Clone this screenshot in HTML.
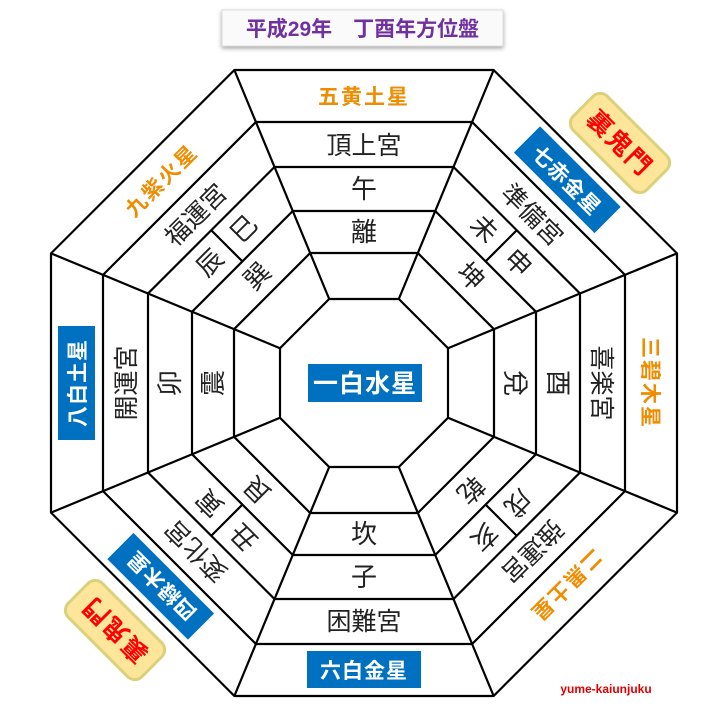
<!DOCTYPE html>
<html><head><meta charset="utf-8">
<style>
html,body{margin:0;padding:0;background:#fff;}
svg{display:block;}
text{font-family:"Liberation Sans","Noto Sans CJK JP",sans-serif;}
</style></head>
<body>
<svg width="724" height="710" viewBox="0 0 724 710" xmlns="http://www.w3.org/2000/svg">
<defs>
<filter id="sh" x="-20%" y="-40%" width="140%" height="180%"><feDropShadow dx="0" dy="2" stdDeviation="2" flood-color="#000" flood-opacity="0.35"/></filter>
</defs>
<rect x="222" y="10" width="281" height="36" fill="#fafafa" stroke="#ddd" filter="url(#sh)"/>
<text x="362.5" y="36" text-anchor="middle" font-size="21" font-weight="bold" fill="#7030a0">平成29年　丁酉年方位盤</text>

<g transform="translate(364,383)" id="d"></g>
<text x="606" y="693" text-anchor="middle" font-size="12" font-weight="bold" fill="#e00000">yume-kaiunjuku</text>
</svg>
<script>
(function(){
var g=document.getElementById('d');
var t=Math.tan(Math.PI/8);
function oct(a){var b=a*t;return [[-b,-a],[b,-a],[a,-b],[a,b],[b,a],[-b,a],[-a,b],[-a,-b]];}
var h='';
[313,261,216,172,130,84].forEach(function(a){h+='<polygon points="'+oct(a).map(function(p){return p[0].toFixed(1)+','+p[1].toFixed(1)}).join(' ')+'" fill="none" stroke="#000" stroke-width="2.2"/>';});
var o=oct(313),i=oct(84);
for(var k=0;k<8;k++)h+='<line x1="'+i[k][0]+'" y1="'+i[k][1]+'" x2="'+o[k][0]+'" y2="'+o[k][1]+'" stroke="#000" stroke-width="2.2"/>';
[45,135,225,315].forEach(function(d){var r=d*Math.PI/180,s=Math.sin(r),c=-Math.cos(r);h+='<line x1="'+(172*s)+'" y1="'+(172*c)+'" x2="'+(216*s)+'" y2="'+(216*c)+'" stroke="#000" stroke-width="2.2"/>';});
var S=[
 [0,'五黄土星',0,'頂上宮',['午'],'離'],
 [45,'七赤金星',1,'準備宮',['未','申'],'坤'],
 [90,'三碧木星',0,'喜楽宮',['酉'],'兌'],
 [135,'二黒土星',0,'強運宮',['戌','亥'],'乾'],
 [180,'六白金星',1,'困難宮',['子'],'坎'],
 [225,'四緑木星',1,'変化宮',['丑','寅'],'艮'],
 [270,'八白土星',1,'開運宮',['卯'],'震'],
 [315,'九紫火星',0,'福運宮',['辰','巳'],'巽']];
S.forEach(function(s){
 var th=s[0],tr,sign;
 if(th==180){tr='';sign=1;}else{tr='rotate('+th+')';sign=-1;}
 var y=function(r){return sign*r;};
 h+='<g transform="'+tr+'">';
 if(s[2]){h+='<rect x="-57" y="'+(y(287)-19)+'" width="114" height="37" fill="#0070c0"/>';
  h+='<text x="0" y="'+(y(287)+8)+'" text-anchor="middle" font-size="21" font-weight="bold" fill="#fff" letter-spacing="1">'+s[1]+'</text>';}
 else h+='<text x="0" y="'+(y(287)+8)+'" text-anchor="middle" font-size="21" font-weight="bold" fill="#f08c00" letter-spacing="2">'+s[1]+'</text>';
 h+='<text x="0" y="'+(y(238)+9)+'" text-anchor="middle" font-size="25" fill="#222">'+s[3]+'</text>';
 if(s[4].length==1)h+='<text x="0" y="'+(y(194)+9)+'" text-anchor="middle" font-size="26" fill="#222">'+s[4][0]+'</text>';
 else{h+='<text x="-24" y="'+(y(194)+9)+'" text-anchor="middle" font-size="26" fill="#222">'+s[4][0]+'</text>';h+='<text x="24" y="'+(y(194)+9)+'" text-anchor="middle" font-size="26" fill="#222">'+s[4][1]+'</text>';}
 h+='<text x="0" y="'+(y(151)+9)+'" text-anchor="middle" font-size="26" fill="#222">'+s[5]+'</text>';
 h+='</g>';
});
h+='<rect x="-56" y="-19" width="114" height="38" fill="#0070c0"/><text x="1" y="9" text-anchor="middle" font-size="25" font-weight="bold" fill="#fff" letter-spacing="1">一白水星</text>';
[[256,-240,45],[-249,247,225]].forEach(function(b){
 h+='<g transform="translate('+b[0]+','+b[1]+') rotate('+b[2]+')"><rect x="-52" y="-24" width="104" height="48" rx="10" fill="#fde69a" stroke="#d9d27a" stroke-width="3"/><text x="0" y="9" text-anchor="middle" font-size="25" font-weight="bold" fill="#ff0000" letter-spacing="2">裏鬼門</text></g>';
});
g.innerHTML=h;
})();
</script>
</body></html>
